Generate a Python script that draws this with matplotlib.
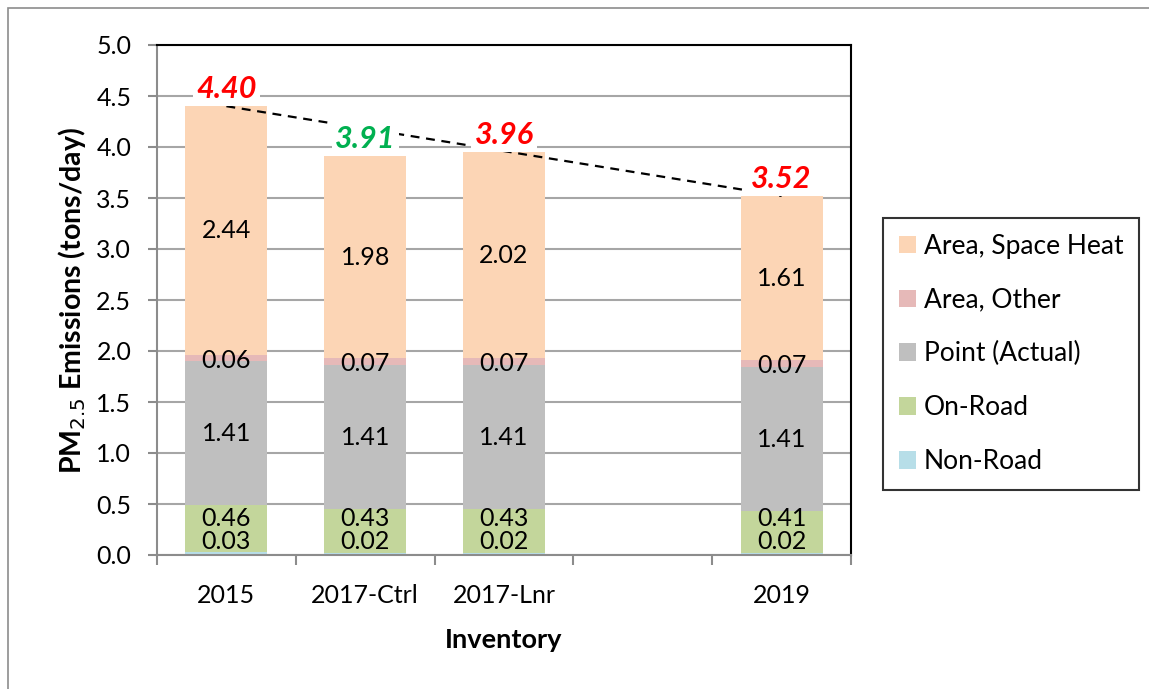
import matplotlib
matplotlib.use("Agg")
import matplotlib.pyplot as plt
from matplotlib.patches import Rectangle
import numpy as np

plt.rcParams['font.family'] = ['Lato', 'DejaVu Sans']

categories = ["2015", "2017-Ctrl", "2017-Lnr", "", "2019"]
bar_positions = [0, 1, 2, 4]
non_road = [0.03, 0.02, 0.02, 0.02]
on_road = [0.46, 0.43, 0.43, 0.41]
point_actual = [1.41, 1.41, 1.41, 1.41]
area_other = [0.06, 0.07, 0.07, 0.07]
space_heat = [2.44, 1.98, 2.02, 1.61]
totals = [4.40, 3.91, 3.96, 3.52]
total_colors = ["#FF0000", "#00B050", "#FF0000", "#FF0000"]

series = [
    ("Non-Road", non_road, "#B7DEE8"),
    ("On-Road", on_road, "#C3D69B"),
    ("Point (Actual)", point_actual, "#BFBFBF"),
    ("Area, Other", area_other, "#E6B9B8"),
    ("Area, Space Heat", space_heat, "#FCD5B5"),
]

fig = plt.figure(figsize=(11.49, 6.89), dpi=100)
fig.patches.append(Rectangle((8 / 1149, -0.1), 1.2, (1 - 8 / 689) + 0.1,
                             transform=fig.transFigure, fill=False,
                             edgecolor="#8C8C8C", linewidth=1.2))
ax = fig.add_axes([157 / 1149, 1 - 555 / 689, (851 - 157) / 1149, (555 - 45) / 689])

width = 0.59
bottoms = np.zeros(len(bar_positions))
handles = []
for name, vals, col in series:
    vals = np.array(vals)
    b = ax.bar(bar_positions, vals, width=width, bottom=bottoms, color=col,
               label=name, zorder=2, edgecolor="none")
    handles.append(b)
    bottoms = bottoms + vals

# segment labels
fs = 18
for i, x in enumerate(bar_positions):
    nr_y = max(non_road[i] / 2, 0.135)
    ax.text(x, nr_y, f"{non_road[i]:.2f}", ha="center", va="center", fontsize=fs, zorder=4)
    base = non_road[i]
    or_y = max(base + on_road[i] / 2, nr_y + 0.225)
    ax.text(x, or_y, f"{on_road[i]:.2f}", ha="center", va="center", fontsize=fs, zorder=4)
    base += on_road[i]
    ax.text(x, base + point_actual[i] / 2, f"{point_actual[i]:.2f}", ha="center", va="center", fontsize=fs, zorder=4)
    base += point_actual[i]
    ax.text(x, base + area_other[i] / 2 - 0.02, f"{area_other[i]:.2f}", ha="center", va="center", fontsize=fs, zorder=4)
    base += area_other[i]
    ax.text(x, base + space_heat[i] / 2, f"{space_heat[i]:.2f}", ha="center", va="center", fontsize=fs, zorder=4)

# trend line
ax.plot([bar_positions[0], bar_positions[-1]], [totals[0], totals[-1]],
        linestyle=(0, (4, 3)), color="black", linewidth=1.6, zorder=3)

# total labels
for x, t, c, stack in zip(bar_positions, totals, total_colors, bottoms):
    ax.annotate(f"{t:.2f}", xy=(x, stack), xytext=(0, 2), textcoords="offset points",
                ha="center", va="bottom", fontsize=22, fontweight="bold", fontstyle="italic",
                color=c, zorder=5,
                bbox=dict(boxstyle="square,pad=0.1", facecolor="white", edgecolor="none"))

ax.set_xlim(-0.5, 4.5)
ax.set_ylim(0, 5.0)
ax.set_yticks(np.arange(0, 5.01, 0.5))
ax.set_yticklabels([f"{v:.1f}" for v in np.arange(0, 5.01, 0.5)], fontsize=18)
ax.set_xticks(range(len(categories)))
ax.set_xticklabels(categories, fontsize=18)
ax.set_xticks(np.arange(-0.5, 4.51, 1.0), minor=True)
ax.tick_params(axis="x", which="major", length=0, pad=21)
ax.tick_params(axis="x", which="minor", length=7, width=1.5, color="#8C8C8C", direction="out")
ax.tick_params(axis="y", length=6.5, width=1.5, color="#8C8C8C", pad=12)

ax.grid(axis="y", color="#A6A6A6", linewidth=1.5, zorder=0)
ax.set_axisbelow(True)
for s in ["left", "bottom"]:
    ax.spines[s].set_color("#8C8C8C")
    ax.spines[s].set_linewidth(1.5)
for s in ["top", "right"]:
    ax.spines[s].set_color("black")
    ax.spines[s].set_linewidth(1.5)

ax.set_ylabel("PM$_{2.5}$ Emissions (tons/day)", fontsize=20.5, fontweight="bold", labelpad=6)
ax.set_xlabel("Inventory", fontsize=19.5, fontweight="bold", labelpad=15)

leg = fig.legend(handles[::-1], [s[0] for s in series][::-1],
                 loc="upper left", bbox_to_anchor=(883 / 1149, 1 - 218 / 689),
                 fontsize=19, frameon=True, fancybox=False, edgecolor="black",
                 labelspacing=1.09, handlelength=0.65, handleheight=0.65,
                 handletextpad=0.3, borderpad=0.6, borderaxespad=0)
leg.get_frame().set_linewidth(1.5)

fig.savefig("out.png", dpi=100)
